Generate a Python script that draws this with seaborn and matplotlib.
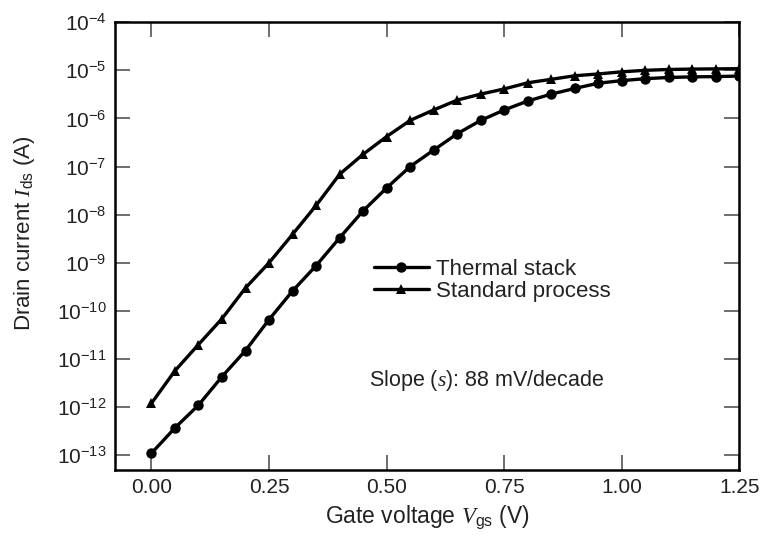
import matplotlib
matplotlib.use("Agg")
import matplotlib.pyplot as plt
import seaborn as sns
import pandas as pd
from matplotlib.ticker import NullLocator, FixedLocator, LogFormatterSciNotation

# Gate voltage sweep (V)
vgs = [0.00, 0.05, 0.10, 0.15, 0.20, 0.25, 0.30, 0.35, 0.40, 0.45, 0.50, 0.55, 0.60,
       0.65, 0.70, 0.75, 0.80, 0.85, 0.90, 0.95, 1.00, 1.05, 1.10, 1.15, 1.20, 1.25]

# Drain current (A)
thermal_stack = [1.1e-13, 3.7e-13, 1.1e-12, 4.3e-12, 1.5e-11, 6.6e-11, 2.6e-10, 8.7e-10,
                 3.3e-9, 1.2e-8, 3.6e-8, 1.0e-7, 2.2e-7, 4.8e-7, 9.1e-7, 1.5e-6,
                 2.3e-6, 3.2e-6, 4.2e-6, 5.4e-6, 6.1e-6, 6.7e-6, 7.1e-6, 7.3e-6,
                 7.4e-6, 7.6e-6]
standard_process = [1.2e-12, 5.7e-12, 2.0e-11, 6.9e-11, 3.0e-10, 1.0e-9, 3.9e-9, 1.55e-8,
                    6.9e-8, 1.8e-7, 4.2e-7, 9.1e-7, 1.5e-6, 2.4e-6, 3.2e-6, 4.1e-6,
                    5.5e-6, 6.5e-6, 7.7e-6, 8.4e-6, 9.3e-6, 1.0e-5, 1.04e-5, 1.06e-5,
                    1.07e-5, 1.08e-5]

xticks = [0.00, 0.25, 0.50, 0.75, 1.00, 1.25]
yticks = [1e-13, 1e-12, 1e-11, 1e-10, 1e-9, 1e-8, 1e-7, 1e-6, 1e-5, 1e-4]

df = pd.DataFrame({
    "vgs": vgs * 2,
    "ids": thermal_stack + standard_process,
    "process": ["Thermal stack"] * len(vgs) + ["Standard process"] * len(vgs),
})

sns.set_theme(style="white")
plt.rcParams["font.family"] = ["Liberation Sans", "DejaVu Sans"]
plt.rcParams["mathtext.fontset"] = "custom"
plt.rcParams["mathtext.rm"] = "Liberation Sans"
plt.rcParams["mathtext.sf"] = "Liberation Sans"
plt.rcParams["mathtext.it"] = "Liberation Serif:italic"

fig = plt.figure(figsize=(7.6, 5.41), dpi=100)
ax = fig.add_axes([0.151, 0.131, 0.822, 0.828])
ax.set_yscale("log")

sns.lineplot(data=df[df.process == "Thermal stack"], x="vgs", y="ids", ax=ax,
             color="black", linewidth=2.4, marker="o", markersize=7.5,
             markeredgewidth=0, label="Thermal stack")
sns.lineplot(data=df[df.process == "Standard process"], x="vgs", y="ids", ax=ax,
             color="black", linewidth=2.4, marker="^", markersize=6.5,
             markeredgewidth=0, label="Standard process")

ax.set_xlim(-0.078, 1.25)
ax.set_ylim(10 ** -13.31, 1e-4)
ax.xaxis.set_major_locator(FixedLocator(xticks))
ax.set_xticklabels([f"{t:.2f}" for t in xticks])
ax.yaxis.set_major_locator(FixedLocator(yticks))
ax.yaxis.set_major_formatter(LogFormatterSciNotation())
ax.yaxis.set_minor_locator(NullLocator())
ax.xaxis.set_minor_locator(NullLocator())

ax.tick_params(axis="both", which="major", direction="in", length=11, width=1.2,
               color="#555555", labelsize=15, labelcolor="#222222",
               top=True, right=True, left=True, bottom=True, pad=6)
for sp in ax.spines.values():
    sp.set_linewidth(1.8)
    sp.set_color("black")

ax.set_xlabel("Gate voltage $V_{\\rm gs}$ (V)", fontsize=16.5, labelpad=4,
              color="#222222")
ax.set_ylabel("Drain current $I_{\\rm ds}$ (A)", fontsize=16, color="#222222")
ax.yaxis.set_label_coords(-0.124, 0.53)

leg = ax.legend(loc="upper left", bbox_to_anchor=(0.40, 0.492), frameon=False,
                fontsize=16, handlelength=2.48, handletextpad=0.35,
                labelspacing=0.05, borderaxespad=0)
for t in leg.get_texts():
    t.set_color("#222222")

ax.text(0.407, 0.20, "Slope ($s$): 88 mV/decade", transform=ax.transAxes,
        fontsize=15.5, ha="left", va="center", color="#222222")

fig.savefig("out.png", dpi=100)
